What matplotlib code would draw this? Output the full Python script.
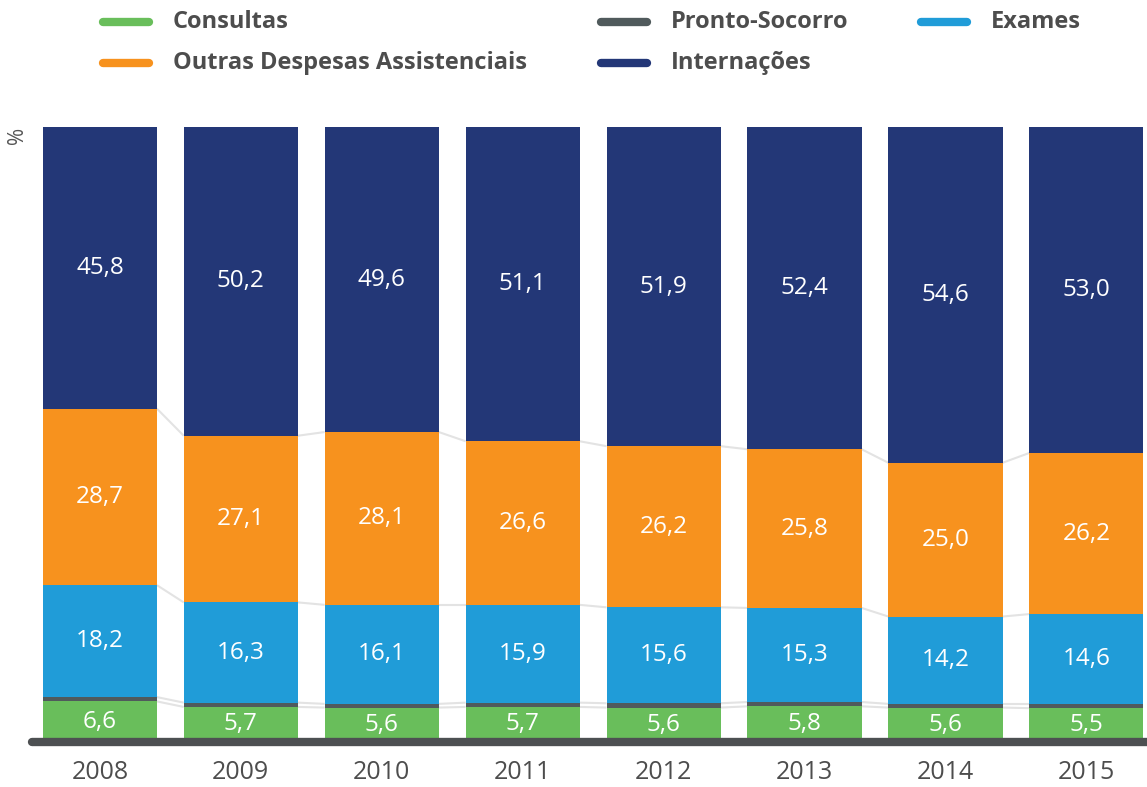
import matplotlib
matplotlib.use("Agg")
import matplotlib.pyplot as plt
from matplotlib.lines import Line2D
import numpy as np

plt.rcParams['font.family'] = ['Open Sans', 'DejaVu Sans']

years = ["2008", "2009", "2010", "2011", "2012", "2013", "2014", "2015"]
consultas = [6.6, 5.7, 5.6, 5.7, 5.6, 5.8, 5.6, 5.5]
pronto_socorro = [0.7, 0.7, 0.6, 0.7, 0.7, 0.7, 0.6, 0.7]
exames = [18.2, 16.3, 16.1, 15.9, 15.6, 15.3, 14.2, 14.6]
outras = [28.7, 27.1, 28.1, 26.6, 26.2, 25.8, 25.0, 26.2]
internacoes = [45.8, 50.2, 49.6, 51.1, 51.9, 52.4, 54.6, 53.0]

series = [
    ("Consultas", consultas, "#69be5b", True),
    ("Pronto-Socorro", pronto_socorro, "#505a5c", False),
    ("Exames", exames, "#209cd8", True),
    ("Outras Despesas Assistenciais", outras, "#f7921e", True),
    ("Internações", internacoes, "#233777", True),
]

W, H = 1147, 787
fig = plt.figure(figsize=(W / 100, H / 100), dpi=100)
ax = fig.add_axes([28 / W, (H - 742) / H, 1 - 28 / W, (742 - 127) / H])

x = np.arange(len(years))
bw = 0.81
bottom = np.zeros(len(years))
for name, vals, color, labelled in series:
    vals = np.array(vals)
    ax.bar(x, vals, bw, bottom=bottom, color=color, zorder=2, linewidth=0)
    if labelled:
        for xi, b, v in zip(x, bottom, vals):
            ax.text(xi, b + v / 2, f"{v:.1f}".replace(".", ","), ha="center",
                    va="center", color="white", fontsize=17.5, zorder=3)
    bottom = bottom + vals
    # connectors between neighbouring bars at each segment boundary
    if name != "Internações":
        for i in range(len(years) - 1):
            ax.plot([x[i] + bw / 2, x[i + 1] - bw / 2], [bottom[i], bottom[i + 1]],
                    color="#e3e3e3", lw=1.5, zorder=1, solid_capstyle="butt")

ax.set_xlim(-0.51, 7.43)
ax.set_ylim(0, 100)
for s in ax.spines.values():
    s.set_visible(False)
ax.set_yticks([])
ax.set_xticks(x)
ax.set_xticklabels(years, fontsize=18, color="#4d4d4d")
ax.tick_params(axis="x", length=0, pad=13)

# baseline
ax.add_line(Line2D([-0.48, 7.6], [0, 0], color="#4d5052", lw=6,
                   solid_capstyle="round", zorder=4, clip_on=False))

fig.text(18 / W, (H - 135) / H, "%", rotation=90, ha="center", va="center",
         fontsize=15, color="#555555")

# legend
legend_items = [
    ("Consultas", "#69be5b", 100, 22),
    ("Pronto-Socorro", "#505a5c", 598, 22),
    ("Exames", "#209cd8", 918, 22),
    ("Outras Despesas Assistenciais", "#f7921e", 100, 63),
    ("Internações", "#233777", 598, 63),
]
for label, color, lx, ly in legend_items:
    yy = (H - ly) / H
    fig.add_artist(Line2D([(lx + 3) / W, (lx + 49) / W], [yy, yy], color=color,
                          lw=6, solid_capstyle="round"))
    fig.text((lx + 73) / W, yy, label, ha="left", va="center", fontsize=17,
             fontweight="bold", color="#4d4d4d")

fig.savefig("out.png", dpi=100)
